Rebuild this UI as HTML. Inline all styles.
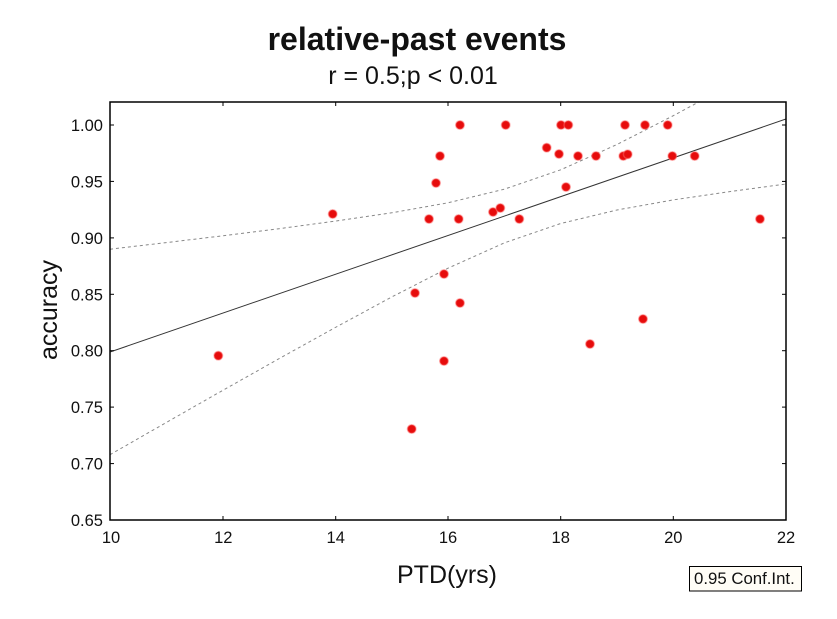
<!DOCTYPE html>
<html>
<head>
<meta charset="utf-8">
<style>
  html,body{margin:0;padding:0;background:#fff;}
  body{width:837px;height:619px;overflow:hidden;}
  svg{display:block;}
  text{font-family:"Liberation Sans",Arial,sans-serif;fill:#111;}
</style>
</head>
<body>
<svg width="837" height="619" viewBox="0 0 837 619" xmlns="http://www.w3.org/2000/svg">
  <defs>
    <clipPath id="plot"><rect x="110" y="102" width="676" height="418"/></clipPath>
  </defs>
  <rect x="0" y="0" width="837" height="619" fill="#fff"/>

  <!-- titles -->
  <text x="417" y="50" font-size="32" font-weight="bold" text-anchor="middle">relative-past events</text>
  <text x="413" y="84" font-size="25" text-anchor="middle">r = 0.5;p &lt; 0.01</text>

  <!-- lines -->
  <g clip-path="url(#plot)">
    <line x1="110" y1="352" x2="786" y2="119" stroke="#333" stroke-width="1"/>
    <polyline fill="none" stroke="#888" stroke-width="1" stroke-dasharray="3,3"
      points="110,249.2 166.3,242.6 222.7,235.8 279,228.7 335.3,221.1 391.7,212.8 448,202.8 504.3,189.2 560.7,169.8 617,144.5 673.3,115.7 729.7,85.3 786,54"/>
    <polyline fill="none" stroke="#888" stroke-width="1" stroke-dasharray="3,3"
      points="110,454.7 166.3,422.5 222.7,390.4 279,358.7 335.3,327.5 391.7,297 448,268.2 504.3,242.9 560.7,223.5 617,210 673.3,199.9 729.7,191.6 786,184"/>
  </g>

  <!-- points -->
  <g fill="#e60c0c" stroke="rgba(255,110,110,0.45)" stroke-width="1.5">
    <circle cx="218.3" cy="355.7" r="4.3"/>
    <circle cx="332.7" cy="214" r="4.3"/>
    <circle cx="411.7" cy="429" r="4.3"/>
    <circle cx="415" cy="293" r="4.3"/>
    <circle cx="429" cy="219" r="4.3"/>
    <circle cx="436" cy="183" r="4.3"/>
    <circle cx="440" cy="156" r="4.3"/>
    <circle cx="444" cy="274" r="4.3"/>
    <circle cx="444" cy="361" r="4.3"/>
    <circle cx="458.7" cy="219" r="4.3"/>
    <circle cx="460" cy="125" r="4.3"/>
    <circle cx="460" cy="303" r="4.3"/>
    <circle cx="493" cy="212" r="4.3"/>
    <circle cx="500.3" cy="208" r="4.3"/>
    <circle cx="505.7" cy="125" r="4.3"/>
    <circle cx="519.3" cy="219" r="4.3"/>
    <circle cx="546.7" cy="147.7" r="4.3"/>
    <circle cx="559" cy="154" r="4.3"/>
    <circle cx="561" cy="125" r="4.3"/>
    <circle cx="568.3" cy="125" r="4.3"/>
    <circle cx="566" cy="187" r="4.3"/>
    <circle cx="578" cy="156" r="4.3"/>
    <circle cx="590" cy="344" r="4.3"/>
    <circle cx="596" cy="156" r="4.3"/>
    <circle cx="623.3" cy="156" r="4.3"/>
    <circle cx="627.7" cy="154.3" r="4.3"/>
    <circle cx="625" cy="125" r="4.3"/>
    <circle cx="643" cy="319" r="4.3"/>
    <circle cx="645" cy="125" r="4.3"/>
    <circle cx="667.7" cy="125" r="4.3"/>
    <circle cx="672.3" cy="156" r="4.3"/>
    <circle cx="694.7" cy="156" r="4.3"/>
    <circle cx="760" cy="219" r="4.3"/>
  </g>

  <!-- frame -->
  <rect x="110" y="102" width="676" height="418" fill="none" stroke="#000" stroke-width="1.5"/>

  <!-- ticks -->
  <g stroke="#000" stroke-width="1">
    <!-- x ticks bottom & top -->
    <line x1="223" y1="520" x2="223" y2="516"/><line x1="223" y1="102" x2="223" y2="106"/>
    <line x1="335.7" y1="520" x2="335.7" y2="516"/><line x1="335.7" y1="102" x2="335.7" y2="106"/>
    <line x1="448" y1="520" x2="448" y2="516"/><line x1="448" y1="102" x2="448" y2="106"/>
    <line x1="560.7" y1="520" x2="560.7" y2="516"/><line x1="560.7" y1="102" x2="560.7" y2="106"/>
    <line x1="673.3" y1="520" x2="673.3" y2="516"/><line x1="673.3" y1="102" x2="673.3" y2="106"/>
    <!-- y ticks left & right -->
    <line x1="110" y1="125" x2="114" y2="125"/><line x1="786" y1="125" x2="782" y2="125"/>
    <line x1="110" y1="181.4" x2="114" y2="181.4"/><line x1="786" y1="181.4" x2="782" y2="181.4"/>
    <line x1="110" y1="237.9" x2="114" y2="237.9"/><line x1="786" y1="237.9" x2="782" y2="237.9"/>
    <line x1="110" y1="294.3" x2="114" y2="294.3"/><line x1="786" y1="294.3" x2="782" y2="294.3"/>
    <line x1="110" y1="350.7" x2="114" y2="350.7"/><line x1="786" y1="350.7" x2="782" y2="350.7"/>
    <line x1="110" y1="407.1" x2="114" y2="407.1"/><line x1="786" y1="407.1" x2="782" y2="407.1"/>
    <line x1="110" y1="463.6" x2="114" y2="463.6"/><line x1="786" y1="463.6" x2="782" y2="463.6"/>
  </g>

  <!-- y tick labels -->
  <g font-size="16.5" text-anchor="end">
    <text x="103" y="131">1.00</text>
    <text x="103" y="187.4">0.95</text>
    <text x="103" y="243.9">0.90</text>
    <text x="103" y="300.3">0.85</text>
    <text x="103" y="356.7">0.80</text>
    <text x="103" y="413.1">0.75</text>
    <text x="103" y="469.6">0.70</text>
    <text x="103" y="526">0.65</text>
  </g>

  <!-- x tick labels -->
  <g font-size="16.5" text-anchor="middle">
    <text x="111" y="543">10</text>
    <text x="223.3" y="543">12</text>
    <text x="335.7" y="543">14</text>
    <text x="448" y="543">16</text>
    <text x="560.7" y="543">18</text>
    <text x="673.3" y="543">20</text>
    <text x="786" y="543">22</text>
  </g>

  <!-- axis titles -->
  <text x="447" y="583" font-size="25" text-anchor="middle">PTD(yrs)</text>
  <text transform="translate(57,310) rotate(-90)" font-size="25" text-anchor="middle">accuracy</text>

  <!-- legend -->
  <rect x="689.5" y="566.5" width="112" height="24.5" fill="#fffdf6" stroke="#000" stroke-width="1"/>
  <text x="694" y="584" font-size="16.8">0.95 Conf.Int.</text>
</svg>
</body>
</html>
